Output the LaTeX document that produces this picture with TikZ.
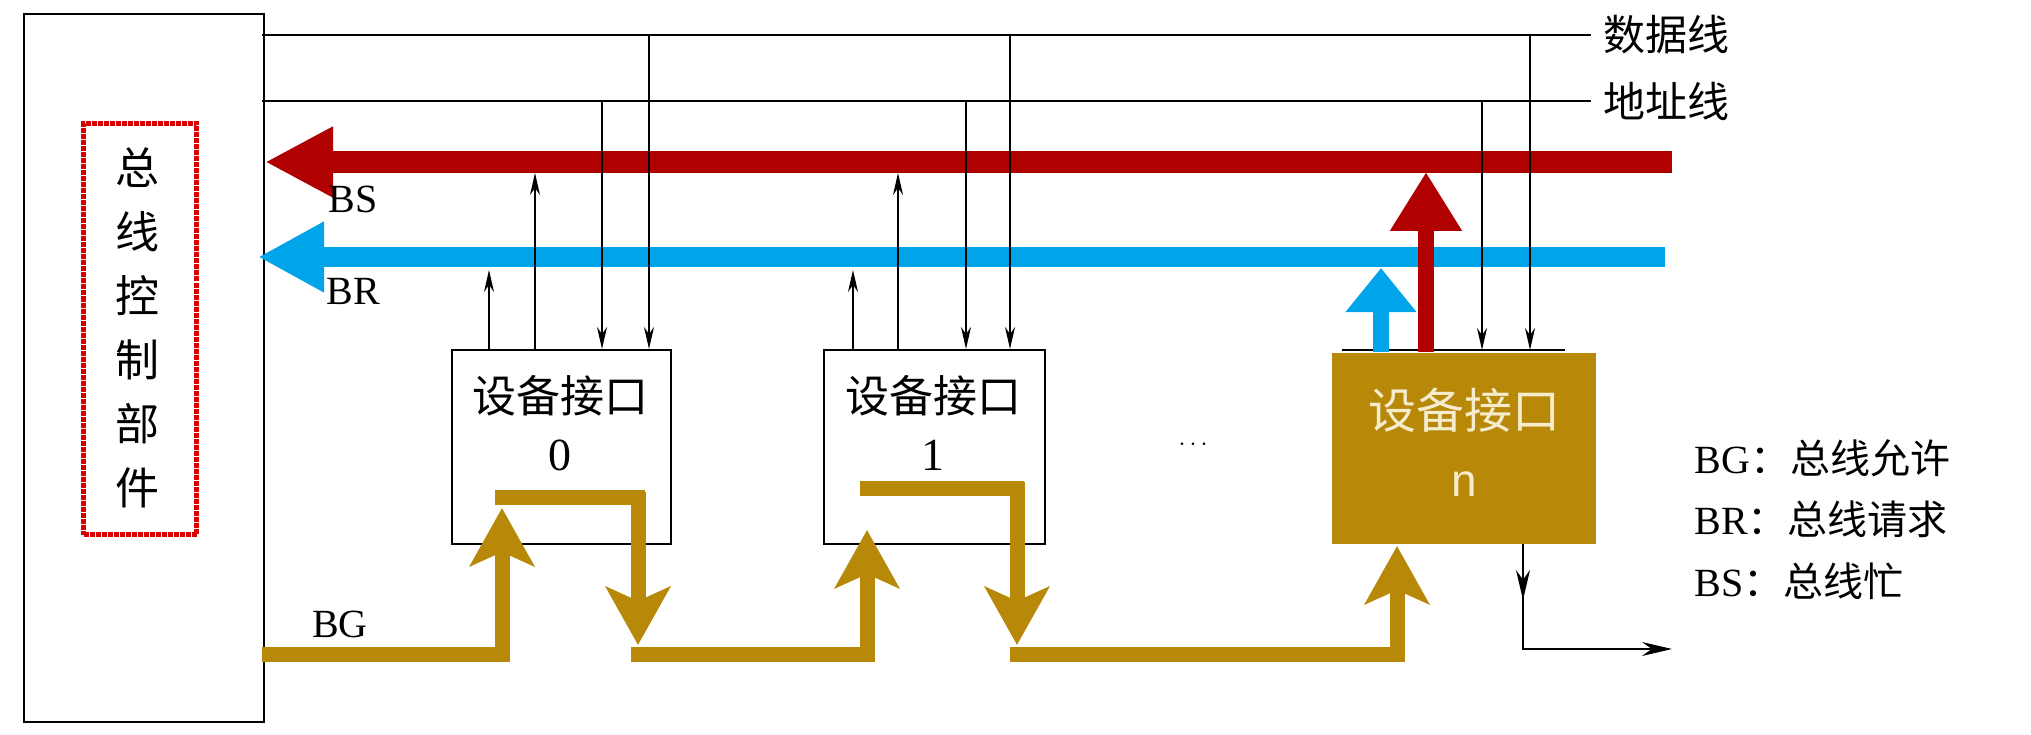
\documentclass[tikz,border=0pt]{standalone}
\usepackage{fontspec}
\setmainfont{Liberation Serif}
\newfontfamily\cjk{Noto Sans CJK SC}
\newfontfamily\lsans{Liberation Sans}
\usetikzlibrary{arrows.meta}
\definecolor{gold}{RGB}{184,136,8}
\definecolor{bsred}{RGB}{176,0,0}
\definecolor{brblue}{RGB}{0,164,232}
\begin{document}
\begin{tikzpicture}[x=1pt,y=-1pt,
  thin/.style={line width=2pt,-{Stealth[length=22pt,width=10pt]}},
  wire/.style={line width=2pt},
  dev/.style={draw,line width=2pt,minimum width=219pt,minimum height=194pt,anchor=north west,inner sep=0pt},
  goldp/.style={gold,line width=15pt,-{Stealth[length=58pt,width=64pt,inset=14pt]}},
  big/.style={font=\fontsize{46}{50}\selectfont},
  lbl/.style={font=\fontsize{40}{44}\selectfont}]
\useasboundingbox (0,0) rectangle (2031,735);
% controller
\node[draw,line width=2pt,minimum width=240pt,minimum height=708pt,anchor=north west,inner sep=0pt] (ctl) at (23,13) {};
\node[draw=red!85!black,densely dotted,line width=5pt,minimum width=113pt,minimum height=411pt,anchor=north west] (dot) at (81,121) {};
\node[big,align=center,font=\cjk\fontsize{44}{64}\selectfont] (ctltext) at (137,328) {总\\线\\控\\制\\部\\件};
% bus lines
\coordinate (dL) at (262,35); \coordinate (dR) at (1591,35);
\coordinate (aL) at (262,101); \coordinate (aR) at (1591,101);
\draw[wire] (dL) -- (dR);
\draw[wire] (aL) -- (aR);
\node[anchor=west,font=\cjk\fontsize{42}{44}\selectfont] (dlab) at (1600,35) {数据线};
\node[anchor=west,font=\cjk\fontsize{42}{44}\selectfont] (alab) at (1600,101) {地址线};
% BS & BR buses
\coordinate (bsR) at (1672,162); \coordinate (bsL) at (265,162);
\coordinate (brR) at (1665,257); \coordinate (brL) at (258,257);
\draw[bsred,line width=22pt,-{Triangle[length=68pt,width=66pt]}] (bsR) -- (bsL);
\draw[brblue,line width=20pt,-{Triangle[length=66pt,width=66pt]}] (brR) -- (brL);
\node[lbl] (bs) at (353,199) {BS};
\node[lbl] (br) at (353,291) {BR};
\node[lbl] (bg) at (340,624) {BG};
% devices
\node[dev] (d0) at (451,349) {};
\node[big,font=\cjk\fontsize{44}{50}\selectfont] (d0t) at (560,396) {设备接口};
\node[big] (d0n) at (560,455) {0};
\node[dev,minimum width=221pt] (d1) at (823,349) {};
\node[big,font=\cjk\fontsize{44}{50}\selectfont] (d1t) at (933,396) {设备接口};
\node[big] (d1n) at (933,455) {1};
\node[fill=gold,minimum width=264pt,minimum height=191pt,anchor=north west,inner sep=0pt] (dn) at (1332,353) {};
\draw[wire] (1342,350) -- (1565,350);
\node[font=\cjk\fontsize{48}{50}\selectfont,text={rgb,255:red,245;green,235;blue,205}] (dnt) at (1464,410) {设备接口};
\node[font=\lsans\fontsize{46}{50}\selectfont,text={rgb,255:red,245;green,235;blue,205}] (dnn) at (1464,484) {n};
\node[big] (dots) at (1193,445) {$\cdots$};
% thin arrows device 0
\draw[thin] (489,349) -- (489,270);
\draw[thin] (535,349) -- (535,173);
\draw[thin] (602,101) -- (602,349);
\draw[thin] (649,35) -- (649,349);
% device 1
\draw[thin] (853,349) -- (853,270);
\draw[thin] (898,349) -- (898,173);
\draw[thin] (966,101) -- (966,349);
\draw[thin] (1010,35) -- (1010,349);
% device n
\draw[thin] (1482,101) -- (1482,350);
\draw[thin] (1530,35) -- (1530,350);
\draw[brblue,line width=16pt,-{Triangle[length=44pt,width=68pt]}] (1381,352) -- (1381,268);
\draw[bsred,line width=16pt,-{Triangle[length=59pt,width=68pt]}] (1426,352) -- (1426,172);
\coordinate (outE) at (1672,649);
\draw[wire,-{Stealth[length=30pt,width=14pt]}] (1523,544) -- (1523,600);
\draw[wire,-{Stealth[length=30pt,width=14pt]}] (1523,595) |- (outE);
% BG daisy chain
\draw[goldp] (262,654) -| (502,508);
\draw[gold,line width=15pt] (495,497) -- (645,497);
\draw[goldp] (638,492) -- (638,645);
\draw[goldp] (631,654) -| (867,530);
\draw[gold,line width=15pt] (860,488) -- (1024,488);
\draw[goldp] (1017,482) -- (1017,645);
\draw[goldp] (1010,654) -| (1397,546);
% legend
\node[anchor=west,font=\fontsize{40}{44}\selectfont] (l1) at (1691,458) {BG\cjk：总线允许};
\node[anchor=west,font=\fontsize{40}{44}\selectfont] (l2) at (1691,519) {BR\cjk：总线请求};
\node[anchor=west,font=\fontsize{40}{44}\selectfont] (l3) at (1691,581) {BS\cjk：总线忙};
\end{tikzpicture}
\end{document}
